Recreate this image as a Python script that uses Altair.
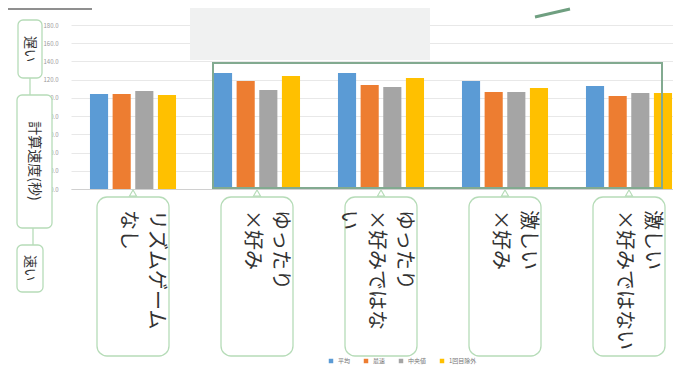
import altair as alt
import pandas as pd

categories = ["リズムゲームなし", "ゆったり×好み", "ゆったり×好みではない", "激しい×好み", "激しい×好みではない"]
callout_labels = ["リズムゲーム\nなし", "ゆったり\n×好み", "ゆったり\n×好みではな\nい", "激しい\n×好み", "激しい\n×好みではない"]
series = ["平均", "最速", "中央値", "1回目除外"]
avg_vals = [104.3, 127.3, 127.3, 118.5, 113.1]
fast_vals = [104.3, 118.5, 114.2, 106.5, 102.1]
median_vals = [107.6, 108.7, 112.0, 106.5, 105.4]
excl_vals = [103.2, 124.0, 121.8, 110.9, 105.4]
y_ticks = [0, 20, 40, 60, 80, 100, 120, 140, 160, 180]
colors = ["#5B9BD5", "#ED7D31", "#A5A5A5", "#FFC000"]
side_labels = ["遅い", "計算速度(秒)", "速い"]

FONT = "Noto Sans CJK JP"
BOX_STROKE = "#b6dcb8"

series_vals = [avg_vals, fast_vals, median_vals, excl_vals]
rows = []
for s, vals in zip(series, series_vals):
    for c, v in zip(categories, vals):
        rows.append({"category": c, "series": s, "value": v})
df = pd.DataFrame(rows)
callout_df = pd.DataFrame({"category": categories, "label": callout_labels})

x_enc = alt.X(
    "category:N", sort=categories,
    scale=alt.Scale(range=[9, 629], paddingInner=0.306, paddingOuter=0.153),
    axis=alt.Axis(labels=False, ticks=False, title=None, domainColor="#d0d0d0"),
)

bars = alt.Chart(df).mark_bar().encode(
    x=x_enc,
    xOffset=alt.XOffset("series:N", sort=series, scale=alt.Scale(paddingInner=0.2)),
    y=alt.Y("value:Q", scale=alt.Scale(domain=[0, 180], nice=False),
            axis=alt.Axis(values=y_ticks, format=".1f", labelFontSize=6, labelColor="#9a9a9a",
                          grid=True, gridColor="#e8e8e8", domain=False, ticks=False,
                          title=None, labelPadding=4)),
    color=alt.Color("series:N", sort=series, scale=alt.Scale(domain=series, range=colors),
                    legend=alt.Legend(orient="none", legendX=266, legendY=333, direction="horizontal",
                                      title=None, labelFontSize=6, labelColor="#777", symbolType="square",
                                      symbolSize=20, columnPadding=12, labelFont=FONT)),
)

one = pd.DataFrame({"k": [0]})

gray_block = alt.Chart(one).mark_rect(fill="#f0f1f1").encode(
    x=alt.value(128), x2=alt.value(368), y=alt.value(-17), y2=alt.value(35))

highlight = alt.Chart(one).mark_rect(fillOpacity=0, stroke="#82aa90", strokeWidth=2).encode(
    x=alt.value(151), x2=alt.value(600), y=alt.value(38), y2=alt.value(163))

top_line = alt.Chart(one).mark_rule(color="#6a6a6a", strokeWidth=1.5).encode(
    x=alt.value(-54), x2=alt.value(30), y=alt.value(-16))

green_stroke = alt.Chart(one).mark_rule(color="#6f9f80", strokeWidth=3).encode(
    x=alt.value(473), x2=alt.value(508), y=alt.value(-8), y2=alt.value(-16))

boxes = alt.Chart(callout_df).mark_bar(size=72, cornerRadius=10, fill="white", stroke=BOX_STROKE,
                                       strokeWidth=1.3).encode(
    x=alt.X("category:N", sort=categories), y=alt.value(172), y2=alt.value(331))

pointers = alt.Chart(callout_df).mark_point(shape="triangle-up", size=50, filled=True, fill="white",
                                            stroke=BOX_STROKE, strokeWidth=1.2, opacity=1).encode(
    x=alt.X("category:N", sort=categories), y=alt.value(168))

texts = alt.Chart(callout_df).mark_text(angle=90, align="left", baseline="middle", lineBreak="\n",
                                        fontSize=20, lineHeight=28, font=FONT, color="#333333",
                                        dy=-23).encode(
    x=alt.X("category:N", sort=categories), y=alt.value(185), text="label:N")

side_layers = []
side_boxes = [(-44, -20, -5, 53, -32, 24, 13), (-45, -10, 70, 203, -28, 136, 14), (-45, -19, 220, 267, -32, 243, 13)]
for lab, (x1, x2, y1, y2, tx, ty, fs) in zip(side_labels, side_boxes):
    d = pd.DataFrame({"label": [lab]})
    side_layers.append(alt.Chart(d).mark_rect(fill="white", stroke=BOX_STROKE, strokeWidth=1.3,
                                              cornerRadius=5).encode(
        x=alt.value(x1), x2=alt.value(x2), y=alt.value(y1), y2=alt.value(y2)))
    side_layers.append(alt.Chart(d).mark_text(angle=90, align="center", baseline="middle", fontSize=fs,
                                              font=FONT, color="#333333").encode(
        x=alt.value(tx), y=alt.value(ty), text="label:N"))

connectors = [
    alt.Chart(one).mark_rule(color=BOX_STROKE, strokeWidth=1.3).encode(
        x=alt.value(-32), y=alt.value(53), y2=alt.value(70)),
    alt.Chart(one).mark_rule(color=BOX_STROKE, strokeWidth=1.3).encode(
        x=alt.value(-29), y=alt.value(203), y2=alt.value(220)),
]

chart = alt.layer(
    gray_block, top_line, green_stroke, bars, highlight, boxes, pointers, texts,
    *connectors, *side_layers,
).properties(
    width=611, height=164,
    autosize=alt.AutoSizeParams(type="none"),
    padding={"left": 62, "top": 25, "right": 0, "bottom": 188},
    background="white",
).configure_view(stroke=None).configure_axis(labelFont=FONT)

chart.save("out.html", embed_options={"renderer": "svg", "actions": False})
